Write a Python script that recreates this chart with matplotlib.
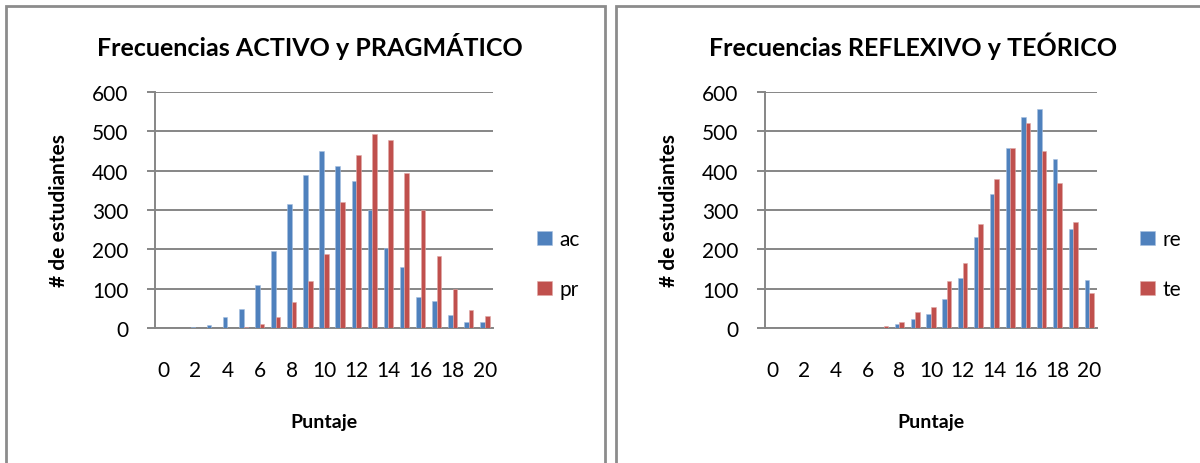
import numpy as np
import matplotlib.pyplot as plt
from matplotlib.patches import Rectangle

plt.rcParams['font.family'] = ['Lato', 'DejaVu Sans']

puntaje = list(range(21))
tick_labels = [str(p) for p in puntaje[::2]]

# left chart
ac = [0, 0, 2, 7, 29, 49, 109, 195, 314, 390, 450, 413, 374, 300, 203, 155, 79, 68, 32, 15, 15]
pr = [0, 0, 0, 0, 1, 3, 10, 27, 66, 119, 188, 320, 441, 492, 479, 394, 299, 182, 99, 47, 30]

# right chart
re = [0, 0, 0, 0, 0, 0, 0, 1, 10, 23, 36, 74, 127, 232, 340, 457, 536, 557, 429, 251, 123]
te = [0, 0, 0, 0, 0, 0, 1, 6, 14, 41, 54, 120, 165, 265, 379, 457, 520, 450, 369, 269, 90]

BLUE = '#4F81BD'
RED = '#C0504D'
GRAY = '#868686'

W, H = 1200, 464
fig = plt.figure(figsize=(W / 100, H / 100), dpi=100)

# chart frames
fig.patches.append(Rectangle((6 / W, -0.1), (605 - 6) / W, 1.1 - 7 / H, transform=fig.transFigure,
                             fill=False, edgecolor='#8c8c8c', linewidth=2))
fig.patches.append(Rectangle((616 / W, -0.1), 0.6, 1.1 - 7 / H, transform=fig.transFigure,
                             fill=False, edgecolor='#8c8c8c', linewidth=2))


def draw(left, right, s1, s2, names, title, title_px, leg_px):
    ax = fig.add_axes([left / W, (H - 329) / H, (right - left) / W, (329 - 93) / H])
    x = np.arange(len(puntaje))
    bw = 1 / 3.5
    ax.bar(x - bw / 2, s1, bw, color=BLUE, edgecolor='#a7c0df', linewidth=0.4, label=names[0], zorder=3)
    ax.bar(x + bw / 2, s2, bw, color=RED, edgecolor='#e0a9a7', linewidth=0.4, label=names[1], zorder=3)
    ax.set_xlim(-0.5, len(puntaje) - 0.5)
    ax.set_ylim(0, 600)
    ax.set_yticks(range(0, 601, 100))
    ax.set_xticks(x[::2])
    ax.set_xticklabels(tick_labels)
    ax.grid(axis='y', color=GRAY, linewidth=1.4, zorder=0)
    for s in ['top', 'right']:
        ax.spines[s].set_visible(False)
    for s in ['left', 'bottom']:
        ax.spines[s].set_color(GRAY)
        ax.spines[s].set_linewidth(1.4)
    ax.tick_params(axis='y', length=6, width=1.4, color=GRAY, pad=13, labelsize=15)
    ax.tick_params(axis='x', length=0, pad=23, labelsize=15)
    ax.set_xlabel('Puntaje', fontsize=14, fontweight='bold', labelpad=24)
    ax.set_ylabel('# de estudiantes', fontsize=15, fontweight='bold', labelpad=17)
    ax.set_title(title, fontsize=18, fontweight='bold', pad=27,
                 x=(title_px - left) / (right - left))
    ax.legend(loc='center left', bbox_to_anchor=((leg_px - left) / (right - left), 0.27),
              frameon=False, fontsize=15, borderpad=0, handlelength=0.7, handleheight=0.7,
              labelspacing=1.45, handletextpad=0.35)
    return ax


draw(155, 493, ac, pr, ['ac', 'pr'], 'Frecuencias ACTIVO y PRAGMÁTICO', 310, 527)
draw(765, 1097, re, te, ['re', 'te'], 'Frecuencias REFLEXIVO y TEÓRICO', 913, 1130)

fig.savefig('out.png', dpi=100)
